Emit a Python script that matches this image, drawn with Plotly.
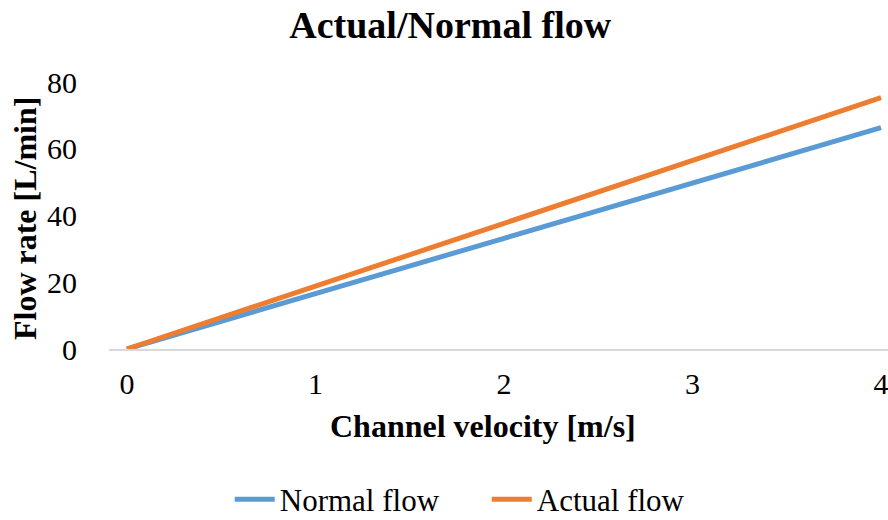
import plotly.graph_objects as go

# Channel velocity [m/s]
velocity = [0, 1, 2, 3, 4]
# Flow rates [L/min]
normal_flow = [0, 16.6, 33.2, 49.7, 66.3]
actual_flow = [0, 18.8, 37.6, 56.5, 75.3]

x_ticks = [0, 1, 2, 3, 4]
y_ticks = [0, 20, 40, 60, 80]

FONT = "Liberation Serif, Times New Roman, serif"

fig = go.Figure()
fig.add_trace(go.Scatter(x=velocity, y=normal_flow, mode="lines", name="Normal flow",
                         line=dict(color="#5B9BD5", width=5)))
fig.add_trace(go.Scatter(x=velocity, y=actual_flow, mode="lines", name="Actual flow",
                         line=dict(color="#ED7D31", width=5)))

fig.update_layout(
    width=888, height=520,
    margin=dict(l=109, r=0, t=82, b=171, autoexpand=False),
    paper_bgcolor="white", plot_bgcolor="white",
    font=dict(family=FONT, size=30, color="black"),
    title=dict(text="<b>Actual/Normal flow</b>", font=dict(size=38, family=FONT, color="black"),
               x=0.438, xref="paper", xanchor="center", y=0.952, yanchor="middle"),
    showlegend=True,
    legend=dict(orientation="h", x=0.155, xanchor="left", y=-0.564, yanchor="middle",
                font=dict(size=31, family=FONT), bgcolor="rgba(0,0,0,0)", itemwidth=40,
                entrywidth=202, entrywidthmode="pixels", tracegroupgap=0),
    xaxis=dict(range=[-0.095, 4.037], tickvals=x_ticks, showgrid=False, zeroline=False,
               showline=True, linecolor="#D9D9D9", linewidth=2, automargin=False,
               ticklabeloverflow="allow",
               ticks="outside", ticklen=7, tickcolor="rgba(0,0,0,0)"),
    yaxis=dict(range=[0, 80], tickvals=y_ticks, showgrid=False, zeroline=False,
               showline=False, automargin=False, ticklabeloverflow="allow",
               ticks="outside", ticklen=25, tickcolor="rgba(0,0,0,0)"),
    annotations=[
        dict(text="<b>Channel velocity [m/s]</b>", xref="paper", yref="paper",
             x=0.48, y=-0.29, xanchor="center", yanchor="middle", showarrow=False,
             font=dict(size=32, family=FONT)),
        dict(text="<b>Flow rate [L/min]</b>", xref="paper", yref="paper",
             x=-0.108, y=0.49, xanchor="center", yanchor="middle", showarrow=False,
             textangle=-90, font=dict(size=32, family=FONT)),
    ],
)

fig.write_html("out.html")
